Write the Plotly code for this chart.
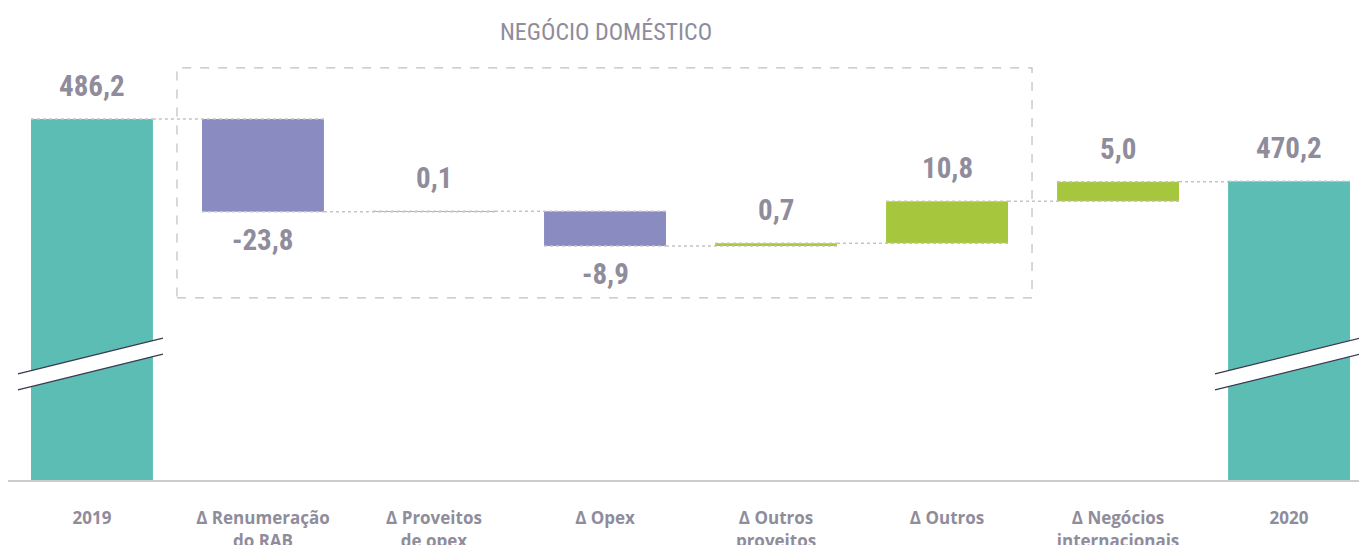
import plotly.graph_objects as go

# Bridge from 2019 to 2020 (domestic business)
categories = ["2019", "Δ Renumeração<br>do RAB", "Δ Proveitos<br>de opex", "Δ Opex",
              "Δ Outros<br>proveitos", "Δ Outros", "Δ Negócios<br>internacionais", "2020"]
values = [486.2, -23.8, 0.1, -8.9, 0.7, 10.8, 5.0, 470.2]
measures = ["absolute", "relative", "relative", "relative",
            "relative", "relative", "relative", "absolute"]

TEAL = "#5cbdb5"
PURPLE = "#8a8bc1"
GREEN = "#a6c63e"
TEXT = "#8f8c9c"
GRID = "#c4c4c4"
COND = "Roboto Condensed, DejaVu Sans Condensed, sans-serif"

Y_MIN, Y_MAX = 393.6, 501.3
idx = list(range(len(categories)))


def fmt(v):
    return f"{v:.1f}".replace(".", ",")


fig = go.Figure(go.Waterfall(
    x=idx,
    y=values,
    measure=measures,
    base=0,
    totals=dict(marker=dict(color=TEAL)),
    increasing=dict(marker=dict(color=GREEN)),
    decreasing=dict(marker=dict(color=PURPLE)),
    connector=dict(mode="spanning", line=dict(color=GRID, width=1.5, dash="dot")),
    hoverinfo="skip",
    textinfo="none",
))

# value labels: above the end of rising/total bars, below falling bars
annotations = []
level = 0.0
for i, (v, m) in enumerate(zip(values, measures)):
    if m == "absolute":
        level = v
    else:
        level = level + v
    shift = -28 if (m == "relative" and v < 0) else 33
    annotations.append(dict(
        x=i, y=level, xref="x", yref="y", text=fmt(v), showarrow=False,
        yshift=shift, yanchor="middle",
        font=dict(family=COND, size=29, color=TEXT, weight="bold"),
    ))

annotations.append(dict(
    x=0.443, y=1.0, xref="paper", yref="paper", yanchor="middle", showarrow=False,
    yshift=28, text="NEGÓCIO DOMÉSTICO",
    font=dict(family=COND, size=24, color=TEXT),
))

shapes = []
# axis-break marks on the two total bars
for c in (0, 7):
    x0, x1 = c - 0.433, c + 0.415
    shapes.append(dict(
        type="path", xref="x", yref="y", layer="above",
        path=f"M {x0} 420.8 L {x1} 430.0 L {x1} 425.9 L {x0} 416.7 Z",
        fillcolor="white", line=dict(width=0),
    ))
    for ya, yb in ((420.8, 430.0), (416.7, 425.9)):
        shapes.append(dict(
            type="line", xref="x", yref="y", layer="above",
            x0=x0, y0=ya, x1=x1, y1=yb,
            line=dict(color="#3a3a50", width=1.3),
        ))

# dashed frame around the operating items
shapes.append(dict(
    type="rect", xref="x", yref="y", layer="above",
    x0=0.497, x1=5.497, y0=440.3, y1=499.3,
    line=dict(color="#bfbfbf", width=1.2, dash="dash"),
))

fig.update_layout(
    width=1359, height=545,
    margin=dict(l=8, r=0, t=60, b=65),
    paper_bgcolor="white", plot_bgcolor="white",
    waterfallgap=0.287,
    showlegend=False,
    annotations=annotations,
    shapes=shapes,
    xaxis=dict(
        range=[-0.491, 7.409],
        tickmode="array", tickvals=idx, ticktext=categories,
        showline=True, linecolor="#cccccc", linewidth=2,
        showgrid=False, zeroline=False, ticks="",
        automargin=False,
        ticklabelstandoff=22,
        tickfont=dict(family="Open Sans, Noto Sans, sans-serif", size=17,
                      color=TEXT, weight="bold"),
    ),
    yaxis=dict(range=[Y_MIN, Y_MAX], visible=False, showgrid=False, zeroline=False,
               automargin=False),
)

fig.write_html("out.html")
